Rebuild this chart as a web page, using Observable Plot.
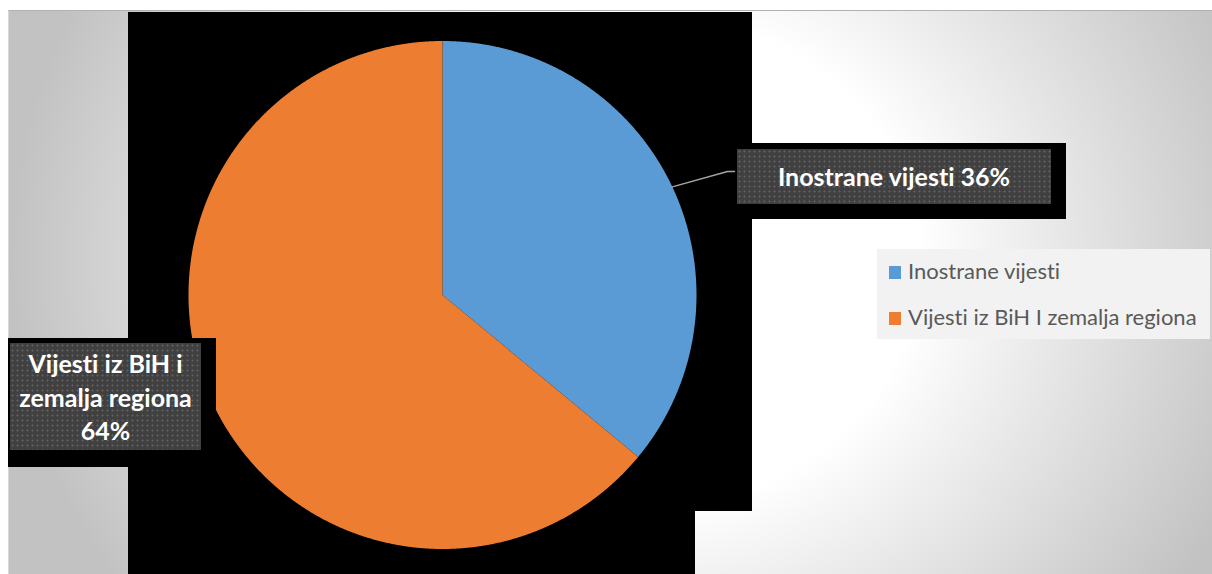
<!DOCTYPE html>
<html><head><meta charset="utf-8">
<script src="https://cdn.jsdelivr.net/npm/d3@7"></script>
<script src="https://cdn.jsdelivr.net/npm/@observablehq/plot@0.6"></script>
<style>
html,body{margin:0;padding:0;background:#fff;}
#wrap{position:relative;width:1212px;height:574px;overflow:hidden;font-family:Lato,"Open Sans",sans-serif;font-variant-ligatures:none;font-feature-settings:"liga" 0,"clig" 0;}
.abs{position:absolute;}
.frame{left:8px;top:10px;right:0;bottom:0;border-top:1px solid #b0b0b0;border-left:1px solid #d8d8d8;
  background:radial-gradient(ellipse 640px 580px at 640px 250px,#ffffff 0%,#ffffff 42%,#c2c2c2 100%);}
.black{background:#000;}
.lbl{background-color:#404040;background-image:radial-gradient(circle,#5e5e5e 0.9px,transparent 1.2px);background-size:5px 5px;
  color:#fff;font-weight:bold;display:flex;align-items:center;justify-content:center;text-align:center;box-sizing:border-box;}
.legend{background:#f2f2f2;color:#595959;}
.sw{position:absolute;width:12px;height:13px;}
.lt{position:absolute;white-space:nowrap;line-height:1;}
#plot svg{display:block;}
</style></head><body>
<div id="wrap">
  <div class="abs frame"></div>
  <div class="abs black" style="left:128px;top:12px;width:624px;height:499px"></div>
  <div class="abs black" style="left:128px;top:511px;width:567px;height:63px"></div>
  <div class="abs black" style="left:752px;top:143px;width:314px;height:76px"></div>
  <div id="plot" class="abs" style="left:0;top:0"></div>
  <div class="abs black" style="left:8px;top:338px;width:208px;height:129px"></div>
  <div id="lblA" class="abs lbl" style="left:737px;top:149px;width:314px;height:55px;font-size:25px;padding-bottom:2px;"></div>
  <div id="lblB" class="abs lbl" style="left:10px;top:343px;width:191px;height:107px;font-size:25px;line-height:33.5px;padding:2px 3px 0 3px;"></div>
  <div id="legend" class="abs legend" style="left:877px;top:249px;width:333px;height:90px"></div>
</div>
<script>
const categories = ["Inostrane vijesti", "Vijesti iz BiH I zemalja regiona"];
const labelNames = ["Inostrane vijesti", "Vijesti iz BiH i zemalja regiona"];
const values = [36, 64];
const colors = ["#5B9BD5", "#ED7D31"];

const W = 1212, H = 574, CX = 442, CY = 294.5, R = 254;
const total = d3.sum(values);
const pct = values.map(v => Math.round(v / total * 100));
const arcs = d3.pie().sort(null).value(d => d)(values);

const pts = [];
arcs.forEach((s, i) => {
  pts.push({name: categories[i], x: 0, y: 0});
  const n = Math.ceil((s.endAngle - s.startAngle) / 0.004);
  for (let k = 0; k <= n; k++) {
    const a = s.startAngle + (s.endAngle - s.startAngle) * k / n;
    pts.push({name: categories[i], x: Math.sin(a), y: Math.cos(a)});
  }
});

const mid = (arcs[0].startAngle + arcs[0].endAngle) / 2;
const px = v => (v - CX) / R, py = v => (CY - v) / R;
const leader = [
  {x: Math.sin(mid), y: Math.cos(mid)},
  {x: px(727), y: py(171)},
  {x: px(734), y: py(171)}
];

const chart = Plot.plot({
  width: W, height: H, margin: 0,
  x: {domain: [-CX / R, (W - CX) / R], axis: null},
  y: {domain: [-(H - CY) / R, CY / R], axis: null},
  color: {domain: categories, range: colors},
  style: {background: "transparent", overflow: "visible"},
  marks: [
    Plot.line(pts, {x: "x", y: "y", z: "name", fill: "name", stroke: "none", curve: "linear-closed"}),
    Plot.line(leader, {x: "x", y: "y", stroke: "#a6a6a6", strokeWidth: 1.3})
  ]
});
document.getElementById("plot").appendChild(chart);

document.getElementById("lblA").textContent = `${labelNames[0]} ${pct[0]}%`;
const lb = document.getElementById("lblB");
lb.innerHTML = "";
lb.appendChild(document.createTextNode(labelNames[1]));
lb.appendChild(document.createElement("br"));
lb.appendChild(document.createTextNode(`${pct[1]}%`));

const leg = document.getElementById("legend");
categories.forEach((c, i) => {
  const sw = document.createElement("div");
  sw.className = "sw";
  sw.style.left = "12px";
  sw.style.top = (17 + i * 46) + "px";
  sw.style.background = colors[i];
  leg.appendChild(sw);
  const t = document.createElement("div");
  t.className = "lt";
  t.style.left = "31px";
  t.style.top = (10.5 + i * 46) + "px";
  t.style.fontSize = "22px";
  t.textContent = c;
  leg.appendChild(t);
});
</script>
</body></html>
